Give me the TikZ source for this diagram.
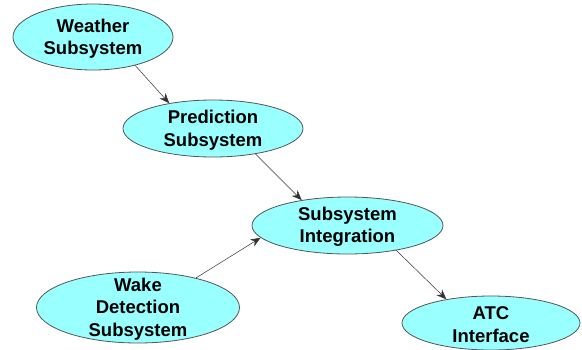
\documentclass[tikz,border=0pt]{standalone}
\usepackage{fontspec}
\setmainfont{Liberation Sans}
\usetikzlibrary{shapes.geometric,arrows.meta}
\definecolor{cyanfill}{HTML}{99FFFF}
\definecolor{edgegray}{HTML}{555555}
\tikzset{
  sys/.style={ellipse, draw=edgegray, line width=0.8pt, fill=cyanfill, inner sep=0pt},
  txt/.style={align=center, font=\fontsize{18.5}{22.5}\selectfont\bfseries, inner sep=0pt, yshift=-1.5pt},
  conn/.style={-{Stealth[length=10pt,width=8pt]}, line width=0.5pt, draw=black!80}
}
\begin{document}
\begin{tikzpicture}[x=1pt,y=-1pt]
\useasboundingbox (0,0) rectangle (582,349);
\node[sys, minimum width=160pt, minimum height=66pt] (w) at (93,37) {};
\node[txt] at (w.center) {Weather\\Subsystem};
\node[sys, minimum width=180pt, minimum height=57pt] (p) at (213,128.5) {};
\node[txt] at (p.center) {Prediction\\Subsystem};
\node[sys, minimum width=191pt, minimum height=57pt] (i) at (347.5,225.5) {};
\node[txt] at (i.center) {Subsystem\\Integration};
\node[sys, minimum width=203pt, minimum height=71pt] (k) at (138,307.5) {};
\node[txt] at (k.center) {Wake\\Detection\\Subsystem};
\node[sys, minimum width=178pt, minimum height=54pt] (a) at (491,323) {};
\node[txt] at (a.center) {ATC\\Interface};
\draw[conn] (w.-34) -- (p.150);
\draw[conn] (p.-31) -- (i.151);
\draw[conn] (k.27) -- (i.188);
\draw[conn] (i.-27) -- (a.152);
\end{tikzpicture}
\end{document}
